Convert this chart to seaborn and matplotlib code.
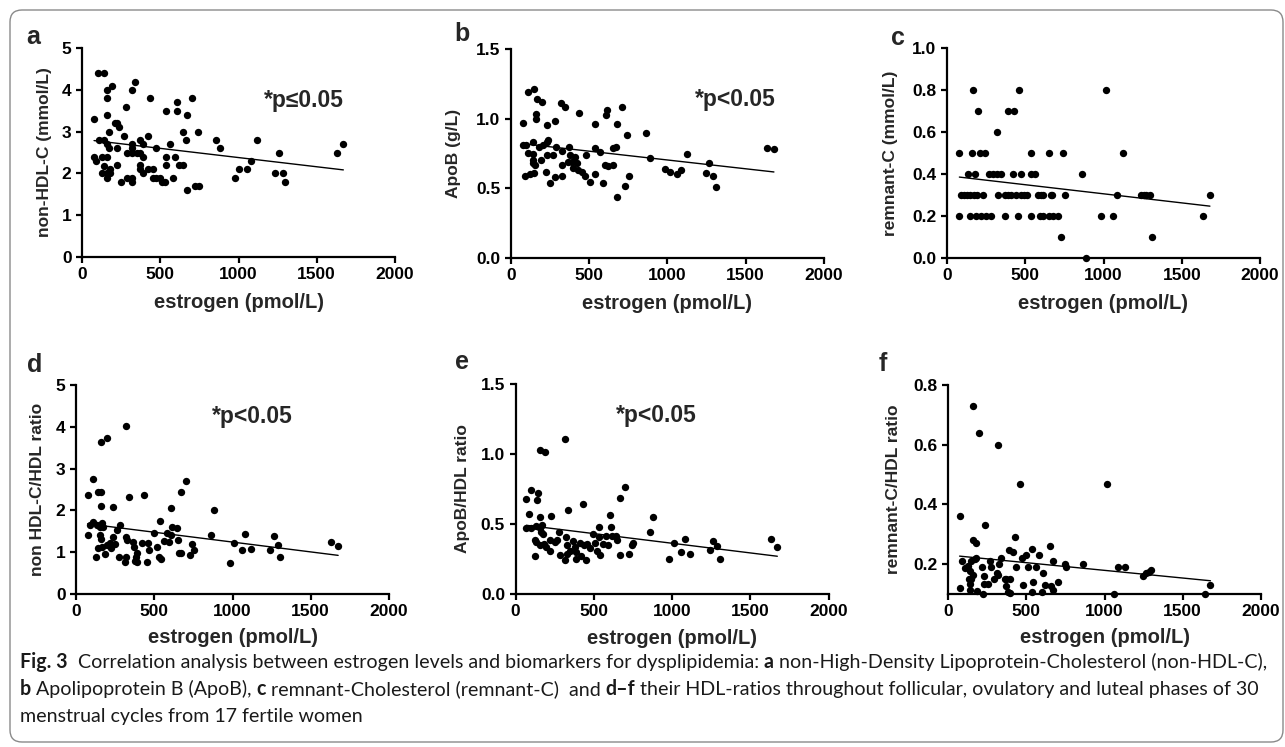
import numpy as np
import pandas as pd
import matplotlib
matplotlib.use("Agg")
import matplotlib.pyplot as plt
import seaborn as sns
from matplotlib.patches import FancyBboxPatch

# ---------------- data ----------------
est_a = [79, 77, 90, 104, 143, 111, 141, 158, 130, 158,
         128, 158, 158, 141, 177, 179, 158, 158, 158, 194,
         175, 175, 211, 226, 234, 226, 222, 279, 266, 249,
         285, 317, 285, 317, 339, 322, 322, 322, 322, 349,
         371, 371, 371, 371, 392, 392, 392, 424, 424, 435,
         452, 456, 473, 473, 498, 509, 530, 535, 535, 535,
         562, 579, 594, 605, 609, 620, 648, 648, 662, 669,
         669, 703, 722, 750, 739, 856, 882, 980, 1005, 1052,
         1078, 1116, 1235, 1261, 1286, 1299, 1627, 1670]
nonhdl_a = [3.30, 2.40, 2.30, 4.39, 4.39, 2.81, 2.81, 2.70, 2.40, 2.40,
            2.00, 2.00, 1.90, 2.18, 2.10, 2.00, 4.00, 3.80, 3.40, 4.09,
            3.00, 2.60, 3.20, 3.20, 3.10, 2.60, 2.20, 3.60, 2.90, 1.80,
            1.90, 1.90, 2.50, 4.00, 4.19, 2.70, 2.60, 2.50, 1.80, 2.50,
            2.80, 2.50, 2.20, 2.10, 2.70, 2.40, 2.00, 2.90, 2.10, 3.80,
            1.90, 2.10, 2.60, 1.90, 1.90, 1.80, 1.80, 3.50, 2.40, 2.20,
            2.70, 1.90, 2.40, 3.70, 3.50, 2.20, 2.20, 3.00, 2.80, 3.40,
            1.60, 3.80, 1.70, 1.70, 3.00, 2.80, 2.60, 1.90, 2.10, 2.10,
            2.30, 2.80, 2.00, 2.50, 2.00, 1.80, 2.50, 2.70]

est_b = [107, 147, 164, 196, 79, 158, 158, 228, 283, 320,
         345, 436, 537, 611, 607, 675, 709, 79, 96, 138,
         111, 143, 143, 143, 153, 190, 177, 207, 228, 239,
         228, 266, 288, 324, 373, 377, 388, 409, 420, 366,
         324, 398, 430, 452, 479, 473, 505, 537, 537, 569,
         586, 601, 622, 654, 654, 671, 675, 728, 756, 739,
         862, 888, 984, 1016, 1058, 1086, 1126, 1244, 1267, 1293,
         1310, 1638, 1680, 89, 121, 149, 222, 249, 281, 324]
apob_b = [1.19, 1.21, 1.14, 1.12, 0.97, 1.03, 0.995, 0.955, 0.98, 1.11,
          1.085, 1.04, 0.965, 1.065, 1.025, 0.965, 1.085, 0.81, 0.81, 0.83,
          0.755, 0.745, 0.70, 0.68, 0.667, 0.70, 0.80, 0.81, 0.835, 0.85,
          0.74, 0.74, 0.80, 0.77, 0.80, 0.74, 0.69, 0.727, 0.68, 0.69,
          0.67, 0.645, 0.635, 0.62, 0.74, 0.585, 0.547, 0.60, 0.787, 0.762,
          0.54, 0.67, 0.66, 0.67, 0.787, 0.80, 0.44, 0.52, 0.59, 0.88,
          0.895, 0.72, 0.64, 0.62, 0.60, 0.63, 0.75, 0.61, 0.68, 0.59,
          0.51, 0.79, 0.78, 0.59, 0.60, 0.61, 0.62, 0.54, 0.58, 0.585]

est_c = [164, 457, 1015,
         198, 389, 430,
         319,
         79, 162, 213, 240, 538, 651, 743, 1126,
         132, 179, 266, 294, 321, 345, 421, 472, 538, 564, 860,
         87, 106, 128, 149, 170, 192, 230, 323, 368, 387,
         406, 438, 470, 489, 513, 581, 602, 613, 662, 672,
         755, 1085, 1241, 1258, 1273, 1294, 1680,
         79, 145, 187, 219, 251, 283, 372, 453, 538, 592,
         613, 651, 677, 709, 981, 1060, 1635,
         730, 1309,
         890]
remc_c = [0.8, 0.8, 0.8,
          0.7, 0.7, 0.7,
          0.6,
          0.5, 0.5, 0.5, 0.5, 0.5, 0.5, 0.5, 0.5,
          0.4, 0.4, 0.4, 0.4, 0.4, 0.4, 0.4, 0.4, 0.4, 0.4, 0.4,
          0.3, 0.3, 0.3, 0.3, 0.3, 0.3, 0.3, 0.3, 0.3, 0.3,
          0.3, 0.3, 0.3, 0.3, 0.3, 0.3, 0.3, 0.3, 0.3, 0.3,
          0.3, 0.3, 0.3, 0.3, 0.3, 0.3, 0.3,
          0.2, 0.2, 0.2, 0.2, 0.2, 0.2, 0.2, 0.2, 0.2, 0.2,
          0.2, 0.2, 0.2, 0.2, 0.2, 0.2, 0.2,
          0.1, 0.1,
          0.0]

est_d = [74, 106, 143, 157, 160, 234, 160, 196, 317, 340,
         436, 704, 670, 606, 883, 74, 89, 111, 136, 151,
         168, 174, 153, 157, 128, 143, 164, 187, 196, 219,
         223, 234, 249, 264, 281, 277, 319, 319, 323, 313,
         366, 370, 381, 392, 377, 392, 419, 451, 462, 468,
         500, 515, 530, 536, 543, 564, 583, 596, 606, 613,
         647, 653, 657, 668, 728, 743, 751, 860, 983, 1009,
         1058, 1083, 1121, 1239, 1264, 1292, 1302, 1632, 1675]
ratio_d = [2.36, 2.75, 2.43, 2.43, 2.11, 2.07, 3.64, 3.73, 4.01, 2.33,
           2.37, 2.71, 2.43, 2.05, 2.00, 1.40, 1.64, 1.73, 1.64, 1.61,
           1.69, 1.61, 1.41, 1.31, 0.89, 1.09, 1.13, 0.95, 1.17, 1.21,
           1.09, 1.37, 1.19, 1.53, 1.64, 0.89, 0.89, 1.36, 1.29, 0.77,
           1.24, 1.13, 0.89, 0.97, 0.79, 0.77, 1.23, 0.77, 1.23, 1.05,
           1.45, 1.13, 0.89, 1.75, 0.84, 1.27, 1.45, 1.25, 1.41, 1.61,
           1.57, 1.28, 0.97, 0.99, 0.93, 1.20, 1.05, 1.40, 0.75, 1.23,
           1.05, 1.43, 1.07, 1.05, 1.39, 1.17, 0.89, 1.24, 1.16]

est_e = [70, 87, 102, 145, 138, 155, 191, 315, 336, 432,
         230, 155, 70, 102, 134, 155, 172, 166, 177, 123,
         134, 155, 181, 125, 198, 219, 223, 251, 262, 279,
         283, 315, 321, 326, 330, 347, 368, 379, 385, 389,
         411, 417, 436, 449, 458, 475, 496, 507, 521, 534,
         534, 538, 560, 581, 592, 602, 609, 619, 645, 666,
         702, 666, 649, 726, 743, 751, 857, 879, 981, 1011,
         1056, 1081, 1117, 1241, 1262, 1287, 1304, 1630, 1673]
ratio_e = [0.68, 0.574, 0.74, 0.725, 0.67, 1.03, 1.015, 1.107, 0.60, 0.645,
           0.555, 0.548, 0.471, 0.471, 0.483, 0.471, 0.495, 0.44, 0.43, 0.388,
           0.369, 0.352, 0.357, 0.269, 0.333, 0.305, 0.388, 0.369, 0.388, 0.44,
           0.281, 0.245, 0.405, 0.352, 0.288, 0.305, 0.381, 0.336, 0.298, 0.25,
           0.364, 0.274, 0.348, 0.245, 0.357, 0.329, 0.431, 0.364, 0.305, 0.476,
           0.407, 0.281, 0.357, 0.412, 0.35, 0.562, 0.476, 0.412, 0.412, 0.686,
           0.764, 0.276, 0.388, 0.286, 0.348, 0.364, 0.443, 0.55, 0.252, 0.364,
           0.30, 0.393, 0.286, 0.317, 0.376, 0.345, 0.252, 0.393, 0.333]

est_f = [162, 196, 317, 458, 1015, 77, 238, 160, 177, 428,
         92, 106, 128, 138, 149, 170, 181, 134, 149, 160,
         138, 143, 74, 185, 215, 230, 228, 255, 223, 266,
         272, 294, 313, 319, 323, 340, 362, 372, 394, 368,
         383, 394, 389, 415, 436, 474, 500, 479, 511, 538,
         543, 538, 581, 564, 606, 623, 602, 649, 670, 660,
         670, 706, 745, 755, 862, 1060, 1085, 1128, 1245, 1266,
         1283, 1298, 1639, 1677]
ratio_f = [0.73, 0.64, 0.60, 0.47, 0.47, 0.36, 0.33, 0.28, 0.27, 0.29,
           0.21, 0.188, 0.193, 0.177, 0.21, 0.216, 0.221, 0.151, 0.151, 0.165,
           0.132, 0.115, 0.121, 0.11, 0.191, 0.16, 0.132, 0.132, 0.10, 0.21,
           0.191, 0.149, 0.171, 0.163, 0.201, 0.219, 0.151, 0.151, 0.151, 0.127,
           0.108, 0.102, 0.249, 0.24, 0.19, 0.221, 0.23, 0.13, 0.19, 0.251,
           0.14, 0.108, 0.23, 0.19, 0.171, 0.129, 0.108, 0.26, 0.21, 0.127,
           0.113, 0.141, 0.199, 0.19, 0.201, 0.10, 0.19, 0.19, 0.16, 0.169,
           0.174, 0.18, 0.10, 0.13]

x_label = "estrogen (pmol/L)"
panel_letters = ["a", "b", "c", "d", "e", "f"]
y_labels = ["non-HDL-C (mmol/L)", "ApoB (g/L)", "remnant-C (mmol/L)",
            "non HDL-C/HDL ratio", "ApoB/HDL ratio", "remnant-C/HDL ratio"]
p_texts = ["*p\u22640.05", "*p<0.05", None, "*p<0.05", "*p<0.05", None]
x_ticks = [0, 500, 1000, 1500, 2000]
y_ticks = [[0, 1, 2, 3, 4, 5], [0.0, 0.5, 1.0, 1.5], [0.0, 0.2, 0.4, 0.6, 0.8, 1.0],
           [0, 1, 2, 3, 4, 5], [0.0, 0.5, 1.0, 1.5], [0.2, 0.4, 0.6, 0.8]]
y_limits = [(0, 5), (0, 1.5), (0, 1.0), (0, 5), (0, 1.5), (0.1, 0.8)]
y_fmt = ["{:.0f}", "{:.1f}", "{:.1f}", "{:.0f}", "{:.1f}", "{:.1f}"]

caption_lines = [
    [("Fig. 3", "bold"),
     ("  Correlation analysis between estrogen levels and biomarkers for dysplipidemia: ", "normal"),
     ("a", "bold"),
     (" non-High-Density Lipoprotein-Cholesterol (non-HDL-C),", "normal")],
    [("b", "bold"), (" Apolipoprotein B (ApoB), ", "normal"), ("c", "bold"),
     (" remnant-Cholesterol (remnant-C)  and ", "normal"), ("d\u2013f", "bold"),
     (" their HDL-ratios throughout follicular, ovulatory and luteal phases of 30", "normal")],
    [("menstrual cycles from 17 fertile women", "normal")],
]

datasets = [(est_a, nonhdl_a), (est_b, apob_b), (est_c, remc_c),
            (est_d, ratio_d), (est_e, ratio_e), (est_f, ratio_f)]

# ---------------- layout (pixels) ----------------
W, H = 1285, 747
sns.set_style("ticks")
plt.rcParams["font.family"] = ["Liberation Sans", "DejaVu Sans"]
plt.rcParams["font.weight"] = "bold"
plt.rcParams["axes.labelweight"] = "bold"

fig = plt.figure(figsize=(W / 100, H / 100), dpi=100)
fig.patch.set_facecolor("white")

# (left, right, top, bottom) in pixels
boxes = [(82, 395, 48, 257), (511, 824, 49, 258), (947, 1260, 48, 258),
         (76, 389, 385, 594), (515.5, 828.5, 384, 594), (948, 1261, 385, 594)]
ylabel_x = [-0.097, -0.161, -0.155, -0.10, -0.144, -0.149]
xlabel_y = [-0.17, -0.17, -0.17, -0.165, -0.165, -0.165]
p_pos = [(0.71, 0.75), (0.716, 0.756), None, (0.562, 0.848), (0.45, 0.852), None]
letter_pos = [(33, 37), (462, 34), (898, 38), (35, 365), (462, 362), (883, 364)]

for i, (xs, ys) in enumerate(datasets):
    l, r, t, b = boxes[i]
    ax = fig.add_axes([l / W, 1 - b / H, (r - l) / W, (b - t) / H])
    df = pd.DataFrame({"estrogen": xs, "value": ys})
    sns.regplot(data=df, x="estrogen", y="value", ax=ax, ci=None, color="black",
                scatter_kws=dict(s=28, linewidths=0, clip_on=False, zorder=3, alpha=1),
                line_kws=dict(lw=1.0, color="black"))
    ax.set_xlim(0, 2000)
    ax.set_ylim(*y_limits[i])
    ax.set_xticks(x_ticks)
    ax.set_xticklabels([str(v) for v in x_ticks])
    ax.set_yticks(y_ticks[i])
    ax.set_yticklabels([y_fmt[i].format(v) for v in y_ticks[i]])
    sns.despine(ax=ax)
    for s in ("left", "bottom"):
        ax.spines[s].set_linewidth(1.6)
        ax.spines[s].set_color("black")
    ax.tick_params(direction="out", length=4.5, width=1.6, labelsize=12.5,
                   colors="black", pad=3)
    for lab in ax.get_xticklabels() + ax.get_yticklabels():
        lab.set_fontweight("bold")
    ax.set_xlabel(x_label, fontsize=14.5, fontweight="bold")
    ax.set_ylabel(y_labels[i], fontsize=12.5, fontweight="bold")
    ax.xaxis.set_label_coords(0.5, xlabel_y[i])
    ax.yaxis.set_label_coords(ylabel_x[i], 0.5)
    ax.set_facecolor("white")
    if p_texts[i]:
        ax.text(*p_pos[i], p_texts[i], transform=ax.transAxes, ha="center",
                va="center", fontsize=16.5, fontweight="bold")
    lx, ly = letter_pos[i]
    fig.text(lx / W, 1 - ly / H, panel_letters[i], ha="center", va="center",
             fontsize=18, fontweight="bold")

# ---------------- caption ----------------
cap_family = ["Lato", "DejaVu Sans"]
renderer = fig.canvas.get_renderer()


def seg_width(txt, weight, size):
    t1 = fig.text(0, 0, "|" + txt + "|", fontsize=size, fontweight=weight, family=cap_family)
    t2 = fig.text(0, 0, "||", fontsize=size, fontweight=weight, family=cap_family)
    w = t1.get_window_extent(renderer).width - t2.get_window_extent(renderer).width
    t1.remove()
    t2.remove()
    return w


base_size = 12.0
w1 = sum(seg_width(t, wgt, base_size) for t, wgt in caption_lines[0])
cap_size = base_size * 1237.0 / w1

baselines = [668, 695, 722]
for line, yb in zip(caption_lines, baselines):
    x = 20.0
    for txt, wgt in line:
        fig.text(x / W, 1 - yb / H, txt, fontsize=cap_size, fontweight=wgt,
                 family=cap_family, ha="left", va="baseline", color="#1a1a1a")
        x += seg_width(txt, wgt, cap_size)

# ---------------- rounded frame ----------------
frame = FancyBboxPatch((10 / 100, (H - 742) / 100), (1283 - 10) / 100, (742 - 10) / 100,
                       boxstyle="round,pad=0,rounding_size=0.12",
                       transform=fig.dpi_scale_trans, fill=False,
                       edgecolor="#8a8a8a", linewidth=1.0, zorder=0)
fig.patches.append(frame)

fig.savefig("out.png", dpi=100, facecolor="white")
